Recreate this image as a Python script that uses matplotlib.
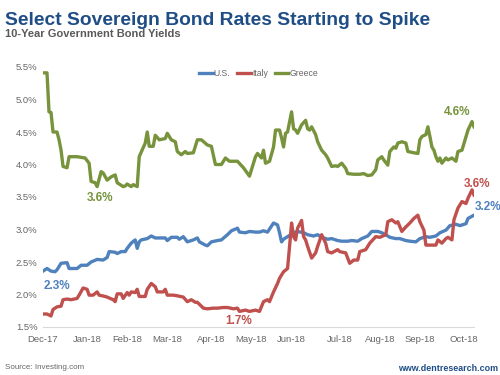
import matplotlib
matplotlib.use('Agg')
import matplotlib.pyplot as plt

plt.rcParams['font.family'] = ['Liberation Sans', 'DejaVu Sans']

# trading-day index (0 = 1 Dec 2017) and yields in %
us_day = [0, 2, 4, 6, 7, 9, 12, 13, 17, 19, 22, 24, 27, 30, 32, 33, 36, 37, 39, 41,
          42, 44, 46, 47, 48, 49, 52, 54, 56, 58, 61, 62, 64, 67, 68, 70, 72, 75, 77, 78,
          81, 82, 84, 87, 89, 92, 94, 97, 98, 101, 103, 106, 108, 110, 112, 115, 117, 118, 119, 120,
          122, 125, 127, 130, 132, 135, 137, 139, 142, 144, 147, 149, 152, 154, 157, 159, 162, 164, 167, 169,
          172, 173, 176, 178, 181, 183, 186, 188, 191, 193, 196, 198, 201, 203, 206, 208, 211, 212, 215]
us_val = [2.36, 2.40, 2.36, 2.35, 2.38, 2.48, 2.49, 2.40, 2.40, 2.45, 2.45, 2.50, 2.54, 2.53, 2.57, 2.66, 2.65, 2.63, 2.66, 2.66,
          2.71, 2.79, 2.84, 2.71, 2.81, 2.84, 2.86, 2.90, 2.87, 2.87, 2.87, 2.83, 2.88, 2.88, 2.85, 2.89, 2.81, 2.84, 2.87, 2.81,
          2.76, 2.75, 2.81, 2.83, 2.84, 2.92, 2.98, 3.02, 2.96, 2.95, 2.97, 2.96, 2.96, 2.98, 2.96, 3.10, 3.07, 2.95, 2.81, 2.85,
          2.89, 2.95, 2.97, 2.95, 2.92, 2.90, 2.92, 2.88, 2.85, 2.86, 2.83, 2.82, 2.82, 2.83, 2.82, 2.86, 2.90, 2.97, 2.97, 2.95,
          2.90, 2.88, 2.86, 2.86, 2.83, 2.82, 2.81, 2.86, 2.89, 2.88, 2.90, 2.95, 2.99, 3.06, 3.08, 3.06, 3.09, 3.17, 3.22]

italy_day = [0, 2, 4, 5, 7, 9, 10, 12, 14, 17, 18, 20, 22, 23, 25, 27, 28, 31, 32, 35,
             36, 37, 39, 40, 42, 43, 44, 46, 47, 48, 51, 52, 54, 56, 57, 60, 61, 62, 65, 67,
             70, 72, 74, 76, 77, 80, 82, 85, 87, 90, 92, 95, 97, 98, 101, 103, 106, 108, 110, 112,
             113, 115, 117, 118, 120, 122, 123, 124, 125, 126, 127, 129, 130, 131, 132, 134, 136, 137, 139, 141,
             142, 144, 147, 148, 151, 153, 155, 157, 158, 161, 163, 166, 168, 171, 172, 174, 176, 177, 179, 181,
             183, 185, 187, 188, 190, 191, 193, 196, 197, 199, 201, 202, 204, 205, 207, 209, 211, 212, 214, 215]
italy_val = [1.70, 1.70, 1.67, 1.77, 1.81, 1.82, 1.92, 1.93, 1.92, 1.94, 1.99, 2.10, 2.08, 1.99, 1.99, 2.04, 1.99, 1.97, 1.96, 1.92,
             1.89, 2.01, 2.01, 1.94, 2.03, 1.99, 2.04, 2.03, 2.08, 1.97, 1.97, 2.08, 2.17, 2.12, 2.04, 2.04, 2.08, 1.99, 1.99, 1.98,
             1.96, 1.89, 1.92, 1.88, 1.88, 1.79, 1.78, 1.79, 1.79, 1.80, 1.80, 1.78, 1.79, 1.74, 1.76, 1.74, 1.76, 1.74, 1.89, 1.92,
             1.89, 2.04, 2.17, 2.25, 2.35, 2.40, 2.74, 3.10, 2.89, 2.84, 3.02, 3.14, 2.89, 2.84, 2.74, 2.56, 2.64, 2.74, 2.92, 2.79,
             2.66, 2.64, 2.69, 2.66, 2.64, 2.48, 2.53, 2.53, 2.66, 2.69, 2.79, 2.89, 2.88, 2.92, 3.12, 3.15, 3.10, 3.12, 2.97, 3.04,
             3.10, 3.17, 3.22, 3.12, 2.99, 2.76, 2.76, 2.76, 2.84, 2.79, 2.86, 2.88, 2.84, 3.15, 3.33, 3.43, 3.40, 3.48, 3.61, 3.53]

greece_day = [0, 2, 3, 4, 5, 7, 8, 9, 10, 12, 13, 17, 21, 23, 24, 26, 27, 29, 30, 32,
              34, 36, 37, 40, 41, 42, 44, 45, 47, 48, 51, 52, 53, 55, 56, 58, 61, 62, 64, 66,
              67, 69, 71, 72, 75, 77, 79, 82, 84, 86, 89, 91, 93, 97, 100, 103, 106, 107, 109, 110,
              111, 113, 115, 116, 118, 119, 120, 121, 122, 124, 125, 126, 127, 129, 131, 132, 133, 134, 136, 137,
              139, 141, 142, 144, 146, 147, 149, 151, 152, 155, 158, 160, 162, 164, 166, 167, 169, 170, 172, 173,
              175, 176, 177, 179, 181, 182, 185, 187, 188, 189, 191, 192, 193, 194, 195, 196, 197, 198, 199, 201,
              202, 204, 206, 207, 209, 211, 212, 214, 215]
greece_val = [5.41, 5.41, 4.81, 4.80, 4.50, 4.50, 4.38, 4.22, 3.97, 3.95, 4.12, 4.12, 4.10, 4.02, 3.74, 3.72, 3.66, 3.89, 3.87, 3.76,
              3.81, 3.84, 3.72, 3.66, 3.67, 3.70, 3.66, 3.69, 3.66, 4.12, 4.33, 4.50, 4.28, 4.28, 4.45, 4.38, 4.40, 4.48, 4.38, 4.35,
              4.20, 4.15, 4.20, 4.17, 4.18, 4.38, 4.38, 4.30, 4.28, 4.00, 4.00, 4.10, 4.05, 4.05, 3.95, 3.82, 4.12, 4.17, 4.10, 4.22,
              4.02, 4.05, 4.27, 4.53, 4.53, 4.41, 4.27, 4.48, 4.50, 4.81, 4.55, 4.53, 4.48, 4.61, 4.68, 4.55, 4.53, 4.58, 4.46, 4.35,
              4.22, 4.15, 4.10, 3.97, 3.98, 3.97, 4.02, 3.94, 3.86, 3.85, 3.85, 3.86, 3.83, 3.84, 3.92, 4.07, 4.12, 4.07, 3.99, 4.20,
              4.27, 4.25, 4.33, 4.35, 4.33, 4.20, 4.18, 4.17, 4.38, 4.43, 4.46, 4.58, 4.43, 4.27, 4.22, 4.12, 4.05, 4.10, 4.02, 4.10,
              4.07, 4.10, 4.05, 4.20, 4.22, 4.43, 4.53, 4.66, 4.58]

month_labels = ['Dec-17', 'Jan-18', 'Feb-18', 'Mar-18', 'Apr-18', 'May-18',
                'Jun-18', 'Jul-18', 'Aug-18', 'Sep-18', 'Oct-18']
month_day = [0, 22, 42, 62, 84, 104, 124, 148, 168, 188, 210]

blue = '#4F81BD'
red = '#C0504D'
green = '#77933C'
navy = '#1F4E86'
gray = '#666666'

fig = plt.figure(figsize=(5, 3.75), dpi=100)
ax = fig.add_axes([43/500, 1-327/375, 431/500, 260/375])

ax.plot(us_day, us_val, color=blue, lw=2.4, label='U.S.', solid_joinstyle='round')
ax.plot(italy_day, italy_val, color=red, lw=2.4, label='Italy', solid_joinstyle='round')
ax.plot(greece_day, greece_val, color=green, lw=2.4, label='Greece', solid_joinstyle='round')

ax.set_xlim(0, 215)
ax.set_ylim(1.5, 5.5)
ax.set_yticks([1.5, 2.0, 2.5, 3.0, 3.5, 4.0, 4.5, 5.0, 5.5])
ax.set_yticklabels(['%.1f%%' % t for t in ax.get_yticks()])
ax.set_xticks(month_day)
ax.set_xticklabels(month_labels)
ax.tick_params(axis='both', length=0, labelsize=6.8, colors=gray)
ax.tick_params(axis='x', pad=6)
ax.tick_params(axis='y', pad=4)
for s in ['top', 'right', 'left']:
    ax.spines[s].set_visible(False)
ax.spines['bottom'].set_color('#D9D9D9')
ax.spines['bottom'].set_linewidth(0.8)

ax.legend(loc='upper center', bbox_to_anchor=(0.5, 1.01), ncol=3, frameon=False,
          fontsize=6.2, handlelength=1.6, handletextpad=0.1, columnspacing=0.8,
          labelcolor=gray, borderaxespad=0.1)

# end-point labels
lab = dict(fontsize=8.5, ha='center', va='center', fontweight='bold')
ax.text(7, 2.13, '2.3%', color=blue, **lab)
ax.text(28.5, 3.48, '3.6%', color=green, **lab)
ax.text(97.5, 1.59, '1.7%', color=red, **lab)
ax.text(206.5, 4.81, '4.6%', color=green, **lab)
ax.text(216.5, 3.70, '3.6%', color=red, **lab)
ax.text(222, 3.35, '3.2%', color=blue, **lab)

fig.text(5/500, 1-25/375, 'Select Sovereign Bond Rates Starting to Spike',
         fontsize=13.9, fontweight='bold', color=navy, va='baseline')
fig.text(5/500, 1-37/375, '10-Year Government Bond Yields',
         fontsize=8, fontweight='bold', color='#595959', va='baseline')
fig.text(5/500, 1-369/375, 'Source: Investing.com', fontsize=5.8, color=gray, va='baseline')
fig.text(498/500, 1-371/375, 'www.dentresearch.com', fontsize=6.4, fontweight='bold',
         color=navy, ha='right', va='baseline')

fig.savefig('out.png', dpi=100)
